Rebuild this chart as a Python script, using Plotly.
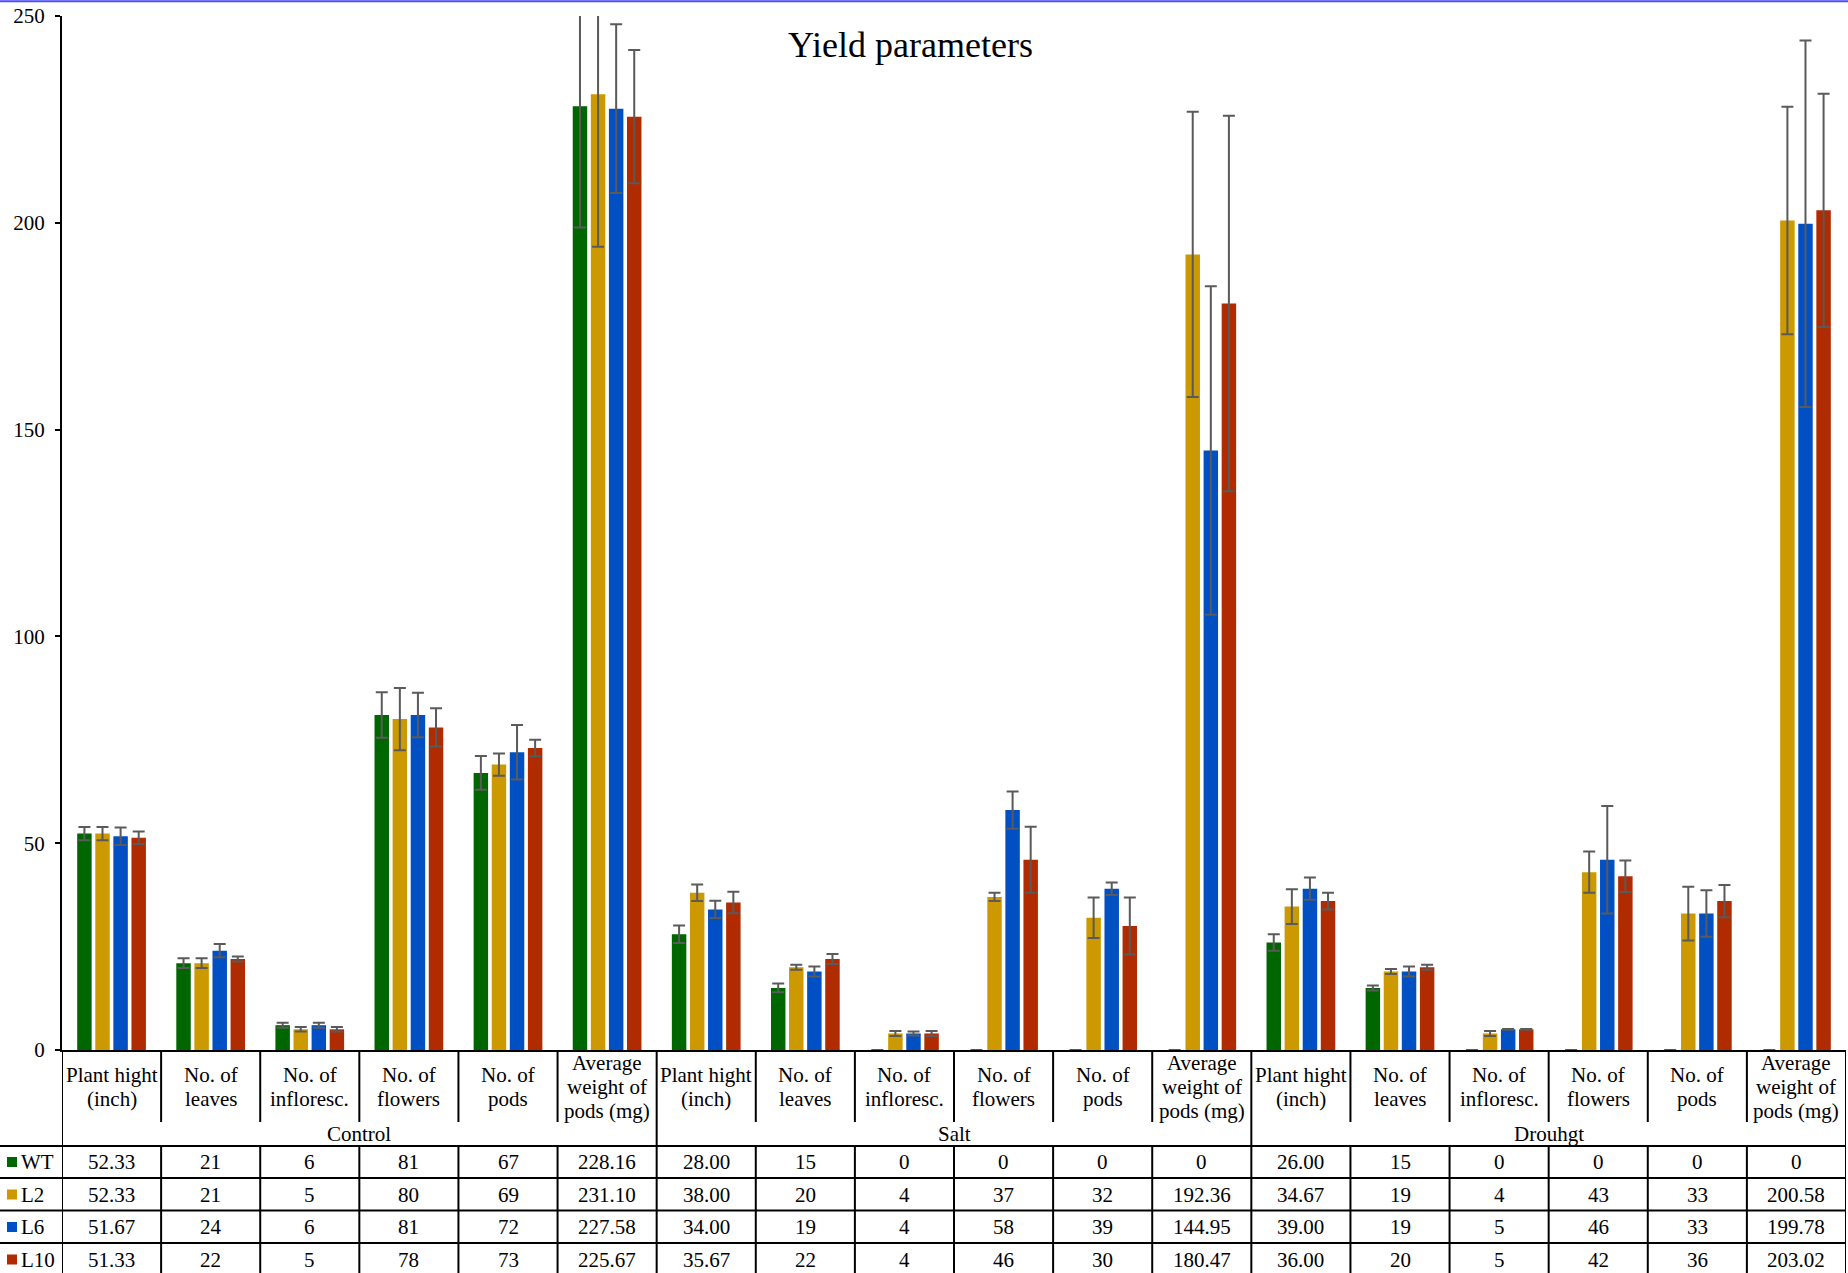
import plotly.graph_objects as go

W, H = 1848, 1273
FONT = "Liberation Serif"

# ---- data -------------------------------------------------------------
conditions = ["Control", "Salt", "Drouhgt"]
parameters = [
    ["Plant hight", "(inch)"],
    ["No. of", "leaves"],
    ["No. of", "infloresc."],
    ["No. of", "flowers"],
    ["No. of", "pods"],
    ["Average", "weight of", "pods (mg)"],
]
two_decimal_params = {0, 5}

series_names = ["WT", "L2", "L6", "L10"]
series_colors = ["#006600", "#CC9900", "#0050C4", "#B02B00"]

#            Control                                   Salt                                   Drouhgt
wt_mean  = [52.33, 21, 6, 81, 67, 228.16,   28.00, 15, 0, 0, 0, 0,            26.00, 15, 0, 0, 0, 0]
l2_mean  = [52.33, 21, 5, 80, 69, 231.10,   38.00, 20, 4, 37, 32, 192.36,     34.67, 19, 4, 43, 33, 200.58]
l6_mean  = [51.67, 24, 6, 81, 72, 227.58,   34.00, 19, 4, 58, 39, 144.95,     39.00, 19, 5, 46, 33, 199.78]
l10_mean = [51.33, 22, 5, 78, 73, 225.67,   35.67, 22, 4, 46, 30, 180.47,     36.00, 20, 5, 42, 36, 203.02]

wt_err  = [1.6, 1.2, 0.6, 5.5, 4.1, 29.3,   2.1, 1.05, None, None, None, None,  2.0, 0.6, None, None, None, None]
l2_err  = [1.6, 1.2, 0.55, 7.5, 2.7, 36.9,  2.0, 0.6, 0.6, 1.0, 4.9, 34.5,      4.2, 0.6, 0.6, 5.0, 6.5, 27.5]
l6_err  = [2.1, 1.6, 0.6, 5.4, 6.6, 20.4,   2.1, 1.2, 0.5, 4.5, 1.5, 39.7,      2.7, 1.2, 0.1, 13.0, 5.6, 44.3]
l10_err = [1.5, 0.6, 0.55, 4.6, 2.0, 16.1,  2.6, 1.2, 0.6, 8.0, 6.9, 45.4,      2.0, 0.6, 0.1, 3.8, 3.9, 28.2]

y_ticks = [0, 50, 100, 150, 200, 250]

means = [wt_mean, l2_mean, l6_mean, l10_mean]
errors = [wt_err, l2_err, l6_err, l10_err]

n_par = len(parameters)
categories = [f"{c} | {' '.join(p)}" for c in conditions for p in parameters]
n_cat = len(categories)


def py(px):
    """Pixel row (from the top of the page) -> paper y."""
    return 1 - px / H


def px_x(px):
    return px / W


def fmt(value, cat_index):
    if cat_index % n_par in two_decimal_params and value != 0:
        return f"{value:.2f}"
    return f"{value:g}"


fig = go.Figure()
for name, color, m, e in zip(series_names, series_colors, means, errors):
    fig.add_trace(go.Bar(
        name=name, x=categories, y=m,
        marker=dict(color=color, line=dict(width=0)),
        error_y=dict(type="data", array=e, visible=True,
                     color="#5A5A5A", thickness=2, width=6),
    ))

# ---- geometry of the chart and the data table ------------------------
AXIS_Y = 1050          # zero line
TOP_Y = 16             # value 250
HEADER_BOTTOM = 1122
ROW_LINES = [1146, 1178, 1210.5, 1243]
ROW_CENTERS = [1162, 1194.5, 1227, 1259.5]
TABLE_BOTTOM = H + 5
LINE = dict(color="black", width=2)

shapes = []
for i in range(n_cat + 1):
    xline = i - 0.5
    if i % n_par == 0:
        # condition borders run through the whole table
        shapes.append(dict(type="line", xref="x", yref="paper",
                           x0=xline, x1=xline, y0=py(AXIS_Y), y1=py(TABLE_BOTTOM), line=LINE))
    else:
        # inner column borders: header block, then the data rows
        shapes.append(dict(type="line", xref="x", yref="paper",
                           x0=xline, x1=xline, y0=py(AXIS_Y), y1=py(HEADER_BOTTOM), line=LINE))
        shapes.append(dict(type="line", xref="x", yref="paper",
                           x0=xline, x1=xline, y0=py(ROW_LINES[0]), y1=py(TABLE_BOTTOM), line=LINE))

# horizontal row borders (run under the row-label column too)
for y in ROW_LINES:
    shapes.append(dict(type="line", xref="paper", yref="paper",
                       x0=0, x1=px_x(1846), y0=py(y), y1=py(y), line=LINE))

# legend keys in the row-label column
for k, color in enumerate(series_colors):
    cy = ROW_CENTERS[k]
    shapes.append(dict(type="rect", xref="paper", yref="paper",
                       x0=px_x(7), x1=px_x(17), y0=py(cy - 5), y1=py(cy + 5),
                       fillcolor=color, line=dict(width=0)))

# thin frame line along the top edge
shapes.append(dict(type="line", xref="paper", yref="paper",
                   x0=0, x1=1, y0=py(1.2), y1=py(1.2),
                   line=dict(color="#4B4BFF", width=2)))

annotations = []
text_font = dict(family=FONT, size=21, color="black")

# parameter headers (one annotation per text line, 24 px apart)
for i in range(n_cat):
    lines = parameters[i % n_par]
    n = len(lines)
    for k, line in enumerate(lines):
        cy = 1087 + (k - (n - 1) / 2) * 24
        annotations.append(dict(text=line, xref="x", yref="paper", x=i, y=py(cy),
                                xanchor="center", yanchor="middle", showarrow=False,
                                font=text_font))

# condition labels
for g, cond in enumerate(conditions):
    annotations.append(dict(text=cond, xref="x", yref="paper",
                            x=g * n_par + (n_par - 1) / 2, y=py(1134),
                            xanchor="center", yanchor="middle", showarrow=False,
                            font=text_font))

# data rows
for k, (name, m) in enumerate(zip(series_names, means)):
    cy = ROW_CENTERS[k]
    annotations.append(dict(text=name, xref="paper", yref="paper", x=px_x(19), y=py(cy),
                            xanchor="left", yanchor="middle", showarrow=False, font=text_font))
    for i, v in enumerate(m):
        annotations.append(dict(text=fmt(v, i), xref="x", yref="paper", x=i, y=py(cy),
                                xanchor="center", yanchor="middle", showarrow=False,
                                font=text_font))

# title
annotations.append(dict(text="Yield parameters", xref="paper", yref="paper",
                        x=px_x(910), y=py(45), xanchor="center", yanchor="middle",
                        showarrow=False, font=dict(family=FONT, size=36, color="black")))

fig.update_layout(
    width=W, height=H,
    margin=dict(l=0, r=0, t=0, b=0, pad=0, autoexpand=False),
    paper_bgcolor="white", plot_bgcolor="white",
    barmode="group", bargap=0.27, bargroupgap=0.2,
    showlegend=False,
    font=dict(family=FONT, color="black"),
    xaxis=dict(domain=[px_x(62), px_x(1846)], type="category", automargin=False,
               range=[-0.5, n_cat - 0.5], showline=True, linecolor="black", linewidth=2,
               showticklabels=False, ticks="", showgrid=False, zeroline=False,
               fixedrange=True),
    yaxis=dict(domain=[py(AXIS_Y), py(TOP_Y)], range=[0, 250], automargin=False,
               tickvals=y_ticks, ticks="outside", ticklen=5, tickwidth=1.5,
               tickcolor="black", showline=True, linecolor="black", linewidth=2,
               showgrid=False, zeroline=False, ticklabelstandoff=6,
               tickfont=dict(family=FONT, size=21, color="black"),
               fixedrange=True),
    shapes=shapes,
    annotations=annotations,
)

fig.write_html("out.html")
